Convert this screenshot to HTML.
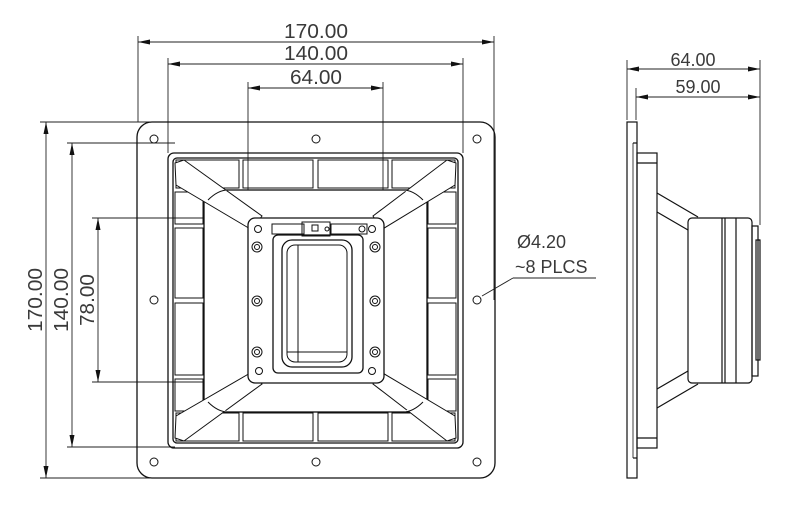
<!DOCTYPE html>
<html><head><meta charset="utf-8"><style>
html,body{margin:0;padding:0;background:#fff;}
svg{display:block;}
text{font-family:"Liberation Sans",sans-serif;fill:#3a3a3a;}
</style></head><body>
<svg width="795" height="519" viewBox="0 0 795 519" xmlns="http://www.w3.org/2000/svg">
<defs>
<marker id="a" viewBox="0 0 12 6" refX="12" refY="3" markerWidth="12" markerHeight="6" orient="auto-start-reverse" markerUnits="userSpaceOnUse"><path d="M0,0.5 L12,3 L0,5.5z" fill="#111"/></marker>
</defs>
<g stroke="#222" stroke-width="0.9" fill="none">
<line x1="138" y1="36" x2="138" y2="122"/><line x1="494" y1="36" x2="494" y2="300"/>
<line x1="168" y1="58" x2="168" y2="153"/><line x1="463" y1="58" x2="463" y2="153"/>
<line x1="248" y1="82" x2="248" y2="218"/><line x1="383" y1="82" x2="383" y2="218"/>
<line x1="138" y1="42" x2="494" y2="42" marker-start="url(#a)" marker-end="url(#a)"/>
<line x1="168" y1="64" x2="463" y2="64" marker-start="url(#a)" marker-end="url(#a)"/>
<line x1="248" y1="88" x2="383" y2="88" marker-start="url(#a)" marker-end="url(#a)"/>
<line x1="40" y1="122" x2="150" y2="122"/><line x1="40" y1="478" x2="150" y2="478"/>
<line x1="67" y1="143" x2="175" y2="143"/><line x1="67" y1="447" x2="175" y2="447"/>
<line x1="92" y1="218" x2="255" y2="218"/><line x1="92" y1="382" x2="255" y2="382"/>
<line x1="46" y1="122" x2="46" y2="478" marker-start="url(#a)" marker-end="url(#a)"/>
<line x1="72" y1="143" x2="72" y2="447" marker-start="url(#a)" marker-end="url(#a)"/>
<line x1="98" y1="218" x2="98" y2="382" marker-start="url(#a)" marker-end="url(#a)"/>
<line x1="482" y1="296" x2="513" y2="278"/><line x1="513" y1="278" x2="596" y2="278"/>
</g>
<text x="316" y="38" font-size="20" text-anchor="middle" textLength="64" lengthAdjust="spacingAndGlyphs">170.00</text>
<text x="316" y="60" font-size="20" text-anchor="middle" textLength="64" lengthAdjust="spacingAndGlyphs">140.00</text>
<text x="316" y="84" font-size="20" text-anchor="middle" textLength="52" lengthAdjust="spacingAndGlyphs">64.00</text>
<text transform="translate(42,300) rotate(-90)" font-size="20" text-anchor="middle" textLength="64" lengthAdjust="spacingAndGlyphs">170.00</text>
<text transform="translate(68,300) rotate(-90)" font-size="20" text-anchor="middle" textLength="64" lengthAdjust="spacingAndGlyphs">140.00</text>
<text transform="translate(94,300) rotate(-90)" font-size="20" text-anchor="middle" textLength="52" lengthAdjust="spacingAndGlyphs">78.00</text>
<text x="517" y="248" font-size="18">Ø4.20</text>
<text x="515" y="273" font-size="18">~8 PLCS</text>
<text x="693" y="66" font-size="18" text-anchor="middle">64.00</text>
<text x="698" y="93" font-size="18" text-anchor="middle">59.00</text>

<g stroke="#111" stroke-width="1.3" fill="none">
<rect x="137" y="122" width="358" height="356" rx="15"/>
<rect x="168" y="153" width="295" height="295" rx="6"/>
<rect x="173" y="158" width="285" height="285" rx="4"/>
<g stroke-width="1">
<circle cx="154" cy="139" r="4"/><circle cx="316" cy="139" r="4"/><circle cx="477" cy="139" r="4"/>
<circle cx="154" cy="300" r="4"/><circle cx="477" cy="300" r="4"/>
<circle cx="154" cy="462" r="4"/><circle cx="316" cy="462" r="4"/><circle cx="477" cy="462" r="4"/>
<rect x="176" y="160" width="63" height="28"/><rect x="243" y="160" width="70" height="28"/><rect x="318" y="160" width="70" height="28"/><rect x="392" y="160" width="63" height="28"/>
<rect x="176" y="413" width="63" height="28"/><rect x="243" y="413" width="70" height="28"/><rect x="318" y="413" width="70" height="28"/><rect x="392" y="413" width="63" height="28"/>
<rect x="175" y="228" width="28" height="70"/><rect x="175" y="303" width="28" height="72"/>
<rect x="428" y="228" width="28" height="70"/><rect x="428" y="303" width="28" height="72"/>
<rect x="175" y="192" width="28" height="32"/><rect x="175" y="379" width="28" height="32"/>
<rect x="428" y="192" width="28" height="32"/><rect x="428" y="379" width="28" height="32"/>
</g>
<rect x="204" y="190" width="223" height="222" fill="#fff"/>
<g stroke-width="1" fill="#fff">
<polygon points="175,163 184,160 262,216 252,230 176,185"/>
<polygon points="456,163 447,160 373,216 381,230 455,185"/>
<polygon points="175,438 184,441 262,384 252,372 176,416"/>
<polygon points="456,438 447,441 373,384 381,372 455,416"/>
<path d="M208,200 q10,-10 20,-10 M403,190 q10,0 20,10 M208,402 q10,10 20,10 M403,412 q10,0 20,-10"/>
</g>
<rect x="248" y="218" width="136" height="165" rx="7" fill="#fff"/>
<rect x="273" y="235" width="90" height="138" rx="5"/>
<rect x="282" y="240" width="70" height="127" rx="10"/>
<rect x="287" y="245" width="60" height="117" rx="8" stroke-width="1"/>
<line x1="298" y1="245" x2="298" y2="362" stroke-width="1"/>
<line x1="287" y1="352" x2="347" y2="352" stroke-width="1"/>
<g stroke-width="1">
<rect x="272" y="224" width="32" height="10"/><rect x="302" y="222" width="28" height="14"/><rect x="331" y="224" width="36" height="10"/>
<rect x="312" y="225" width="6" height="6"/><circle cx="327" cy="229" r="2"/><circle cx="362" cy="229" r="3"/>
<circle cx="258" cy="229" r="3.5"/><circle cx="372" cy="229" r="3.5"/><circle cx="259" cy="371" r="3.5"/><circle cx="372" cy="371" r="3.5"/>
<circle cx="257" cy="247" r="5"/><circle cx="257" cy="247" r="2.5"/>
<circle cx="375" cy="247" r="5"/><circle cx="375" cy="247" r="2.5"/>
<circle cx="257" cy="301" r="5"/><circle cx="257" cy="301" r="2.5"/>
<circle cx="375" cy="301" r="5"/><circle cx="375" cy="301" r="2.5"/>
<circle cx="257" cy="352" r="5"/><circle cx="257" cy="352" r="2.5"/>
<circle cx="375" cy="352" r="5"/><circle cx="375" cy="352" r="2.5"/>
</g>
</g>
<g stroke="#222" stroke-width="0.9" fill="none">
<line x1="627" y1="60" x2="627" y2="120"/><line x1="636" y1="88" x2="636" y2="120"/>
<line x1="760" y1="60" x2="760" y2="225"/>
<line x1="627" y1="69" x2="760" y2="69" marker-start="url(#a)" marker-end="url(#a)"/>
<line x1="636" y1="97" x2="760" y2="97" marker-start="url(#a)" marker-end="url(#a)"/>
</g>
<g stroke="#111" stroke-width="1.2" fill="none">
<rect x="627" y="122" width="10" height="356"/>
<line x1="633" y1="143" x2="637" y2="143"/><line x1="633" y1="458" x2="637" y2="458"/>
<line x1="633" y1="143" x2="633" y2="458" stroke-width="0.8"/>
<rect x="637" y="153" width="20" height="295"/>
<line x1="637" y1="163" x2="657" y2="163"/><line x1="637" y1="438" x2="657" y2="438"/>
<polyline points="657,193 698,217"/><polyline points="657,212 688,230"/>
<polyline points="657,408 698,384"/><polyline points="657,389 688,371"/>
<rect x="688" y="218" width="64" height="165" rx="4"/>
<line x1="722" y1="218" x2="722" y2="383"/><line x1="725" y1="218" x2="725" y2="383"/><line x1="736" y1="218" x2="736" y2="383"/>
<rect x="752" y="226" width="6" height="150"/>
<line x1="758" y1="240" x2="760" y2="240"/><rect x="756" y="240" width="4" height="120"/>
</g>
</svg>
</body></html>
